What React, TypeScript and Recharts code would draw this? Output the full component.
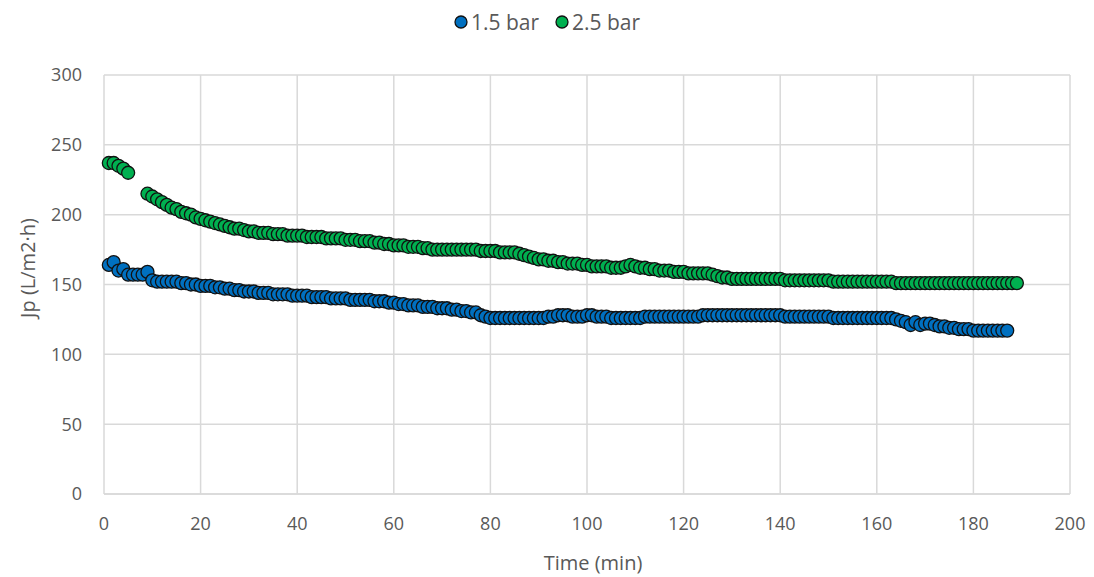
import React from "react";
import { ScatterChart, Scatter, XAxis, YAxis, CartesianGrid } from "recharts";

// flux readings, one per minute
const lowPressureStart = 1;
const lowPressureFlux = [
  164, 166, 160, 161, 157, 157, 157, 157, 159, 153,
  152, 152, 152, 152, 152, 151, 151, 150, 150, 149,
  149, 149, 148, 148, 147, 147, 146, 146, 145, 145,
  145, 144, 144, 144, 143, 143, 143, 143, 142, 142,
  142, 142, 141, 141, 141, 141, 140, 140, 140, 140,
  139, 139, 139, 139, 139, 138, 138, 138, 137, 137,
  136, 136, 135, 135, 135, 134, 134, 134, 133, 133,
  133, 132, 132, 131, 131, 130, 130, 128, 127, 126,
  126, 126, 126, 126, 126, 126, 126, 126, 126, 126,
  126, 127, 127, 128, 128, 128, 127, 127, 127, 128,
  128, 127, 127, 127, 126, 126, 126, 126, 126, 126,
  126, 127, 127, 127, 127, 127, 127, 127, 127, 127,
  127, 127, 127, 128, 128, 128, 128, 128, 128, 128,
  128, 128, 128, 128, 128, 128, 128, 128, 128, 128,
  127, 127, 127, 127, 127, 127, 127, 127, 127, 127,
  126, 126, 126, 126, 126, 126, 126, 126, 126, 126,
  126, 126, 126, 125, 124, 123, 121, 123, 121, 122,
  122, 121, 120, 120, 119, 119, 118, 118, 118, 117,
  117, 117, 117, 117, 117, 117, 117,
];

const highPressureEarlyStart = 1;
const highPressureEarly = [237, 237, 235, 233, 230];

const highPressureStart = 9;
const highPressureFlux = [
  215, 213, 211, 209, 207, 205, 204, 202, 201, 200,
  198, 197, 196, 195, 194, 193, 192, 191, 190, 190,
  189, 188, 188, 187, 187, 187, 186, 186, 186, 185,
  185, 185, 185, 184, 184, 184, 184, 183, 183, 183,
  183, 182, 182, 182, 181, 181, 181, 180, 180, 179,
  179, 178, 178, 178, 177, 177, 177, 176, 176, 175,
  175, 175, 175, 175, 175, 175, 175, 175, 175, 174,
  174, 174, 174, 173, 173, 173, 173, 172, 171, 170,
  169, 168, 168, 167, 167, 166, 166, 165, 165, 165,
  164, 164, 163, 163, 163, 163, 162, 162, 162, 163,
  164, 163, 162, 162, 161, 161, 160, 160, 160, 159,
  159, 159, 158, 158, 158, 158, 158, 157, 156, 155,
  155, 154, 154, 154, 154, 154, 154, 154, 154, 154,
  154, 154, 153, 153, 153, 153, 153, 153, 153, 153,
  153, 153, 152, 152, 152, 152, 152, 152, 152, 152,
  152, 152, 152, 152, 152, 151, 151, 151, 151, 151,
  151, 151, 151, 151, 151, 151, 151, 151, 151, 151,
  151, 151, 151, 151, 151, 151, 151, 151, 151, 151,
  151,
];

const xTicks = [0, 20, 40, 60, 80, 100, 120, 140, 160, 180, 200];
const yTicks = [0, 50, 100, 150, 200, 250, 300];

const seriesNames = ["1.5 bar", "2.5 bar"];
const BLUE = "#0070C0";
const GREEN = "#00B050";
const TEXT = "#595959";
const FONT = "'Open Sans', 'Noto Sans', sans-serif";

const toPoints = (start: number, values: number[]) =>
  values.map((y, i) => ({ x: start + i, y }));

const lowData = toPoints(lowPressureStart, lowPressureFlux);
const highData = [
  ...toPoints(highPressureEarlyStart, highPressureEarly),
  ...toPoints(highPressureStart, highPressureFlux),
];

const dot = (fill: string) => (props: any) => {
  const { cx, cy } = props;
  if (cx == null || cy == null) return <g />;
  return <circle cx={cx} cy={cy} r={6.5} fill={fill} stroke="#111" strokeWidth={1.3} />;
};

const LegendBox = () => (
  <div
    style={{
      position: "absolute",
      left: 0,
      top: 8,
      width: 1094,
      display: "flex",
      justifyContent: "center",
      alignItems: "center",
      gap: 16,
      fontFamily: FONT,
      fontSize: 21,
      color: TEXT,
      lineHeight: "28px",
    }}
  >
    {[BLUE, GREEN].map((c, i) => (
      <span key={i} style={{ display: "flex", alignItems: "center", gap: 3 }}>
        <svg width={14} height={16}>
          <circle cx={7} cy={8} r={6} fill={c} stroke="#111" strokeWidth={1.3} />
        </svg>
        {seriesNames[i]}
      </span>
    ))}
  </div>
);

export default function App() {
  return (
    <div style={{ position: "absolute", left: 0, top: 0, width: 1094, height: 577, background: "#fff" }}>
      <ScatterChart width={1094} height={577} margin={{ top: 75, right: 24, bottom: 23, left: 0 }}>
        <CartesianGrid stroke="#d9d9d9" strokeWidth={1.5} />
        <XAxis
          type="number"
          dataKey="x"
          domain={[0, 200]}
          ticks={xTicks}
          height={60}
          axisLine={{ stroke: "#d9d9d9", strokeWidth: 1.5 }}
          tickLine={false}
          tickSize={0}
          tickMargin={23}
          tick={{ fill: TEXT, fontSize: 18, fontFamily: FONT }}
          label={() => (
            <text x={593} y={562} textAnchor="middle" dominantBaseline="central" fill={TEXT} fontSize={20} fontFamily={FONT}>
              Time (min)
            </text>
          )}
        />
        <YAxis
          type="number"
          dataKey="y"
          domain={[0, 300]}
          ticks={yTicks}
          width={104}
          axisLine={false}
          tickLine={false}
          tickSize={0}
          tickMargin={22}
          tick={{ fill: TEXT, fontSize: 18, fontFamily: FONT }}
          label={() => (
            <text
              x={27}
              y={268}
              transform="rotate(-90 27 268)"
              textAnchor="middle"
              dominantBaseline="central"
              fill={TEXT}
              fontSize={20}
              fontFamily={FONT}
            >
              Jp (L/m2·h)
            </text>
          )}
        />
        <Scatter name={seriesNames[0]} data={lowData} shape={dot(BLUE)} isAnimationActive={false} />
        <Scatter name={seriesNames[1]} data={highData} shape={dot(GREEN)} isAnimationActive={false} />
      </ScatterChart>
      <LegendBox />
    </div>
  );
}
